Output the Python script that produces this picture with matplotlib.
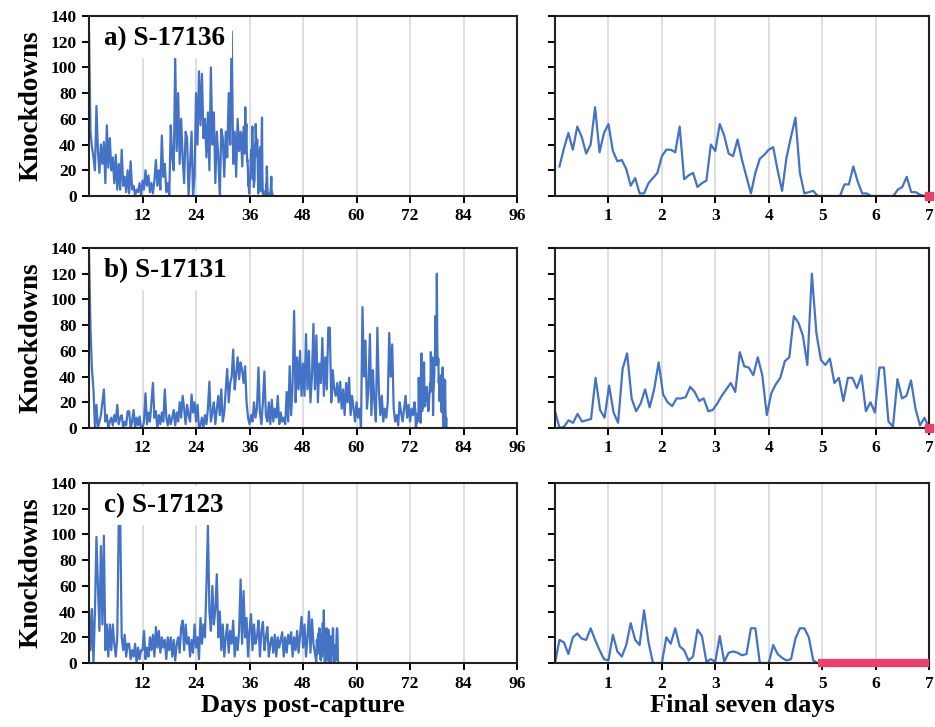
import numpy as np
import matplotlib
matplotlib.use('Agg')
import matplotlib.pyplot as plt

plt.rcParams['font.family'] = ['Liberation Serif', 'DejaVu Serif']
plt.rcParams['font.weight'] = 'bold'

### Data ###
# whole track, 8 h steps, up to the start of the final week
a_early = [128, 50, 38, 30, 20, 70, 35, 18, 40, 25, 42, 10, 55, 22, 45,
           20, 30, 10, 32, 5, 25, 5, 36, 8, 15, 3, 20, 2, 27, 5,
           8, 0, 5, 3, 10, 0, 12, 5, 20, 8, 16, 3, 10, 2, 12,
           28, 8, 20, 5, 47, 15, 25, 3, 10, 0, 55, 30, 20, 107, 35,
           80, 25, 60, 30, 10, 50, 45, 0, 25, 50, 0, 15, 80, 40, 97,
           55, 95, 45, 60, 30, 65, 20, 100, 40, 65, 10, 50, 30, 0, 52,
           45, 15, 50, 30, 80, 40, 128, 25, 50, 15, 60, 35, 50]
b_early = [135, 77, 45, 30, 0, 18, 0, 5, 10, 20, 30, 5, 10, 0, 5,
           8, 2, 10, 5, 18, 3, 8, 10, 0, 5, 2, 13, 13, 0, 5,
           14, 0, 8, 2, 9, 0, 0, 5, 27, 3, 12, 5, 20, 35, 8,
           13, 0, 10, 3, 12, 5, 30, 8, 2, 10, 3, 8, 14, 2, 12,
           5, 20, 8, 25, 15, 3, 18, 10, 5, 26, 12, 20, 5, 18, 0,
           2, 8, 0, 10, 3, 15, 36, 5, 12, 20, 3, 15, 25, 10, 30,
           5, 12, 30, 46, 20, 35, 40, 61, 30, 42, 55, 38, 51, 45, 35,
           48, 20, 8, 3, 10, 5, 20, 8, 15, 47, 12, 3, 20, 44, 10,
           5, 20, 3, 22, 5, 15, 8, 25, 3, 12, 5, 8, 3, 28, 5,
           48, 10, 35, 91, 20, 55, 30, 60, 25, 50, 25, 73, 30, 60, 20,
           40, 81, 30, 72, 20, 50, 35, 70, 25, 55, 30, 78, 78, 20, 45,
           30, 25, 35, 20, 36, 15, 30, 10, 35, 20, 39, 10, 25, 15, 5,
           20, 8, 15, 0, 94, 40, 68, 15, 30, 73, 10, 45, 20, 5, 78,
           30, 10, 25, 5, 15, 8, 20, 74, 40, 65, 15, 5, 10, 2, 20,
           12, 5, 15, 25, 8, 18, 5, 15, 10, 20]
c_early = [42, 10, 42, 0, 40, 98, 60, 25, 91, 30, 99, 10, 30, 5, 30,
           10, 30, 15, 5, 20, 110, 110, 20, 10, 22, 5, 15, 15, 3, 10,
           5, 15, 0, 12, 3, 10, 10, 25, 3, 12, 5, 20, 10, 22, 5,
           28, 12, 25, 8, 20, 12, 18, 3, 20, 10, 20, 5, 18, 2, 15,
           20, 8, 28, 33, 10, 30, 15, 20, 5, 18, 8, 30, 12, 20, 3,
           35, 15, 30, 20, 60, 107, 40, 25, 60, 30, 42, 69, 20, 40, 10,
           30, 5, 20, 30, 8, 25, 15, 33, 5, 20, 10, 25, 65, 15, 56,
           20, 35, 5, 25, 38, 10, 30, 15, 20, 33, 5, 25, 32, 10, 20,
           28, 5, 15, 20, 8, 22, 5, 20, 12, 18, 24, 5, 20, 8, 22,
           15, 24, 5, 20, 10, 25, 8, 22, 36, 12, 30, 5, 20, 40, 8,
           34, 15]

# final seven days, 2 h steps
a_week = [23, 37, 49, 36, 54, 46, 33, 40, 69, 34, 49, 56,
          35, 27, 28, 21, 8, 14, 2, 2, 10, 14, 18, 31,
          36, 36, 34, 54, 13, 16, 18, 7, 10, 12, 40, 35,
          56, 47, 33, 31, 44, 28, 15, 2, 18, 29, 32, 36,
          38, 20, 4, 30, 46, 61, 18, 2, 3, 4, 0, 0,
          0, 0, 0, 0, 9, 9, 23, 11, 2, 2, 0, 0,
          0, 0, 0, 0, 5, 7, 15, 3, 3, 1, 0, 0]
b_week = [13, 0, 1, 6, 4, 11, 5, 6, 7, 39, 14, 8,
          33, 12, 4, 46, 58, 23, 13, 19, 30, 16, 30, 51,
          26, 20, 17, 23, 23, 24, 32, 28, 21, 23, 13, 14,
          19, 25, 30, 35, 28, 59, 48, 47, 41, 55, 41, 10,
          27, 34, 39, 52, 55, 87, 82, 72, 49, 120, 74, 53,
          49, 54, 35, 39, 21, 39, 39, 31, 41, 13, 20, 12,
          47, 47, 5, 1, 38, 23, 25, 37, 15, 2, 8, 0]
c_week = [0, 18, 16, 7, 20, 23, 19, 18, 27, 18, 10, 3,
          2, 22, 9, 5, 14, 31, 18, 14, 41, 16, 0, 0,
          0, 20, 15, 27, 13, 10, 2, 5, 26, 21, 1, 3,
          1, 21, 1, 8, 9, 8, 6, 7, 27, 27, 0, 0,
          0, 14, 7, 4, 2, 3, 19, 27, 27, 20, 2, 0]

panel_names = ['a) S-17136', 'b) S-17131', 'c) S-17123']
days_tracked = [41.3, 80.2, 58.0]

blue = '#4472c4'
red = '#e8416b'
grid_col = '#d9d9d9'

fig = plt.figure(figsize=(9.35, 7.27), dpi=100)

# figure-fraction bottoms of the three rows
row_y = [0.7304, 0.4113, 0.0880]
row_h = 0.2476


def style_axes(ax):
    for s in ax.spines.values():
        s.set_linewidth(1.5)
        s.set_color('#222222')
    ax.tick_params(direction='out', length=5, width=1.4, labelsize=12.5, pad=4, colors='black')
    ax.grid(axis='x', color=grid_col, lw=1.2)
    ax.set_axisbelow(True)


for i in range(3):
    early = [a_early, b_early, c_early][i]
    week = [a_week, b_week, c_week][i]
    end = days_tracked[i]

    if i == 0:
        week_x = np.arange(1, len(week) + 1) / 12
    elif i == 1:
        week_x = np.linspace(0, 7, len(week))
    else:
        week_x = np.arange(len(week)) / 12

    x_full = np.concatenate([np.arange(len(early)) / 3, end - 7 + week_x])
    y_full = np.concatenate([early, week])
    if week_x[-1] < 7:
        # tag sat still after the last detection
        x_full = np.append(x_full, end)
        y_full = np.append(y_full, 0)

    ### Left: whole track ###
    axl = fig.add_axes([0.0952, row_y[i], 0.4578, row_h])
    axl.plot(x_full, y_full, color=blue, lw=1.6)
    axl.set_xlim(0, 96)
    axl.set_ylim(0, 140)
    axl.set_xticks(range(12, 97, 12))
    axl.set_yticks(range(0, 141, 20))
    style_axes(axl)
    axl.text(0.035, 0.875, panel_names[i], transform=axl.transAxes, fontsize=19.5,
             va='center', ha='left', zorder=5,
             bbox=dict(facecolor='white', edgecolor='none', pad=5))

    ### Right: final seven days ###
    axr = fig.add_axes([0.5936, row_y[i], 0.400, row_h])
    axr.plot(week_x, week, color=blue, lw=1.6)
    if week_x[-1] < 7:
        axr.plot([week_x[-1], 7], [0, 0], color=red, lw=6, solid_capstyle='butt', clip_on=False, zorder=4)
    else:
        axr.plot([week_x[-1]], [week[-1]], marker='s', ms=6, color=red, clip_on=False, zorder=4)
    axr.set_xlim(0, 7)
    axr.set_ylim(0, 140)
    axr.set_xticks(range(1, 8))
    axr.set_yticks(range(0, 141, 20))
    axr.set_yticklabels([])
    style_axes(axr)

    fig.text(0.033, row_y[i] + row_h / 2, 'Knockdowns', rotation=90, fontsize=19.5,
             ha='center', va='center')

fig.text(0.324, 0.030, 'Days post-capture', fontsize=19, ha='center', va='center')
fig.text(0.794, 0.030, 'Final seven days', fontsize=19, ha='center', va='center')

plt.savefig('out.png', dpi=100)
